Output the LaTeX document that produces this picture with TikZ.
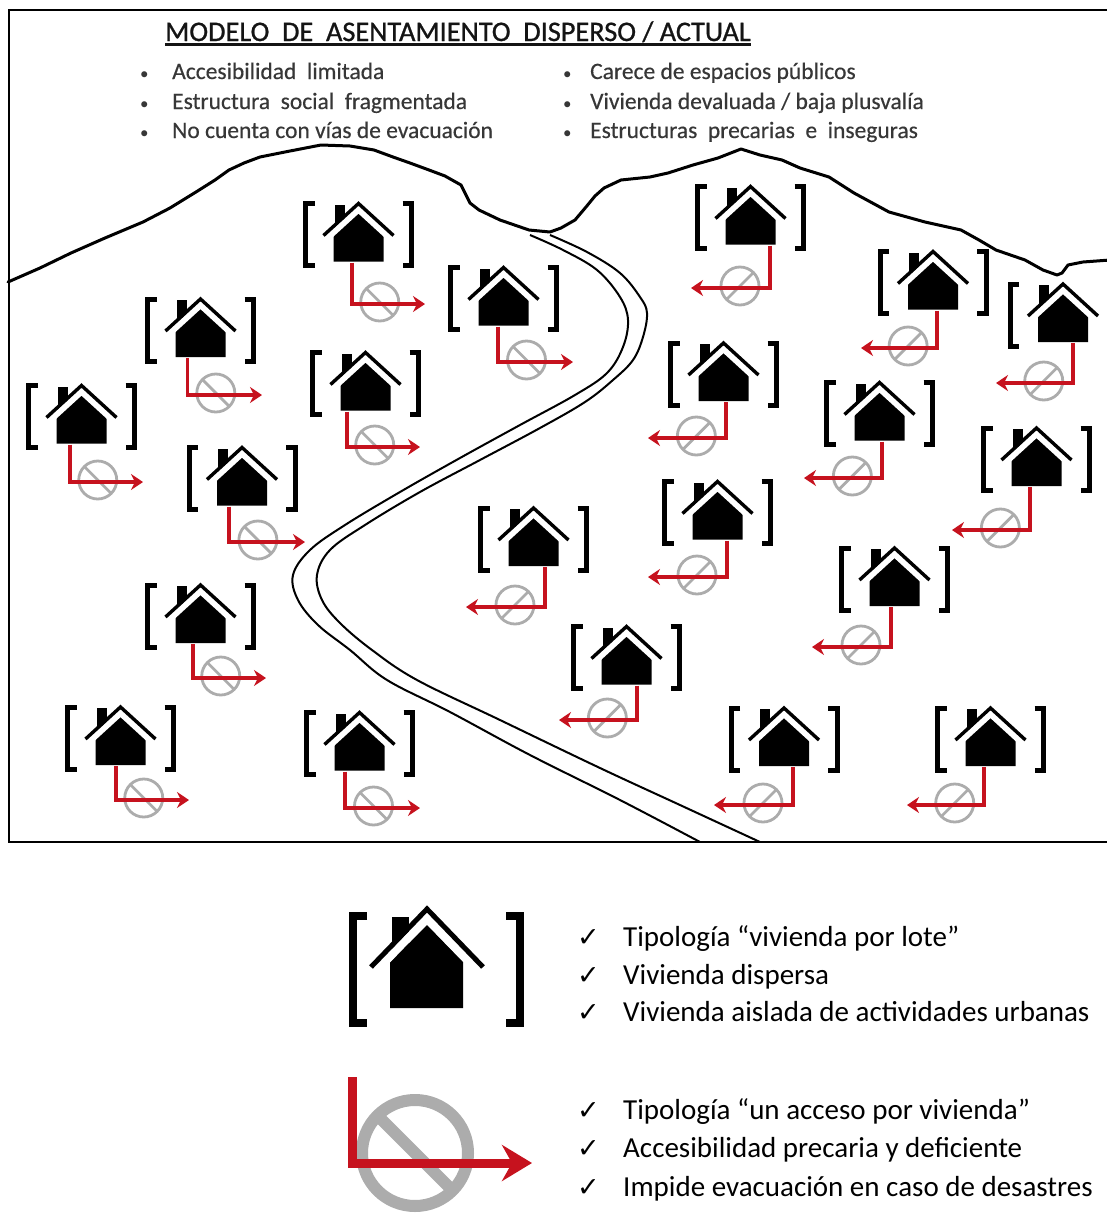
\documentclass[tikz,border=0pt]{standalone}
\usepackage{fontspec}
\setmainfont{Carlito}
\newfontfamily\checkfont{DejaVu Sans}
\newfontfamily\headfont{Carlito}[FakeBold=0.9]
\newfontfamily\notefont{Carlito}[FakeBold=0.4]
\usetikzlibrary{arrows.meta,calc}

\definecolor{accessred}{RGB}{198,18,30}
\definecolor{bangray}{RGB}{172,172,172}
\definecolor{bulletink}{RGB}{55,55,55}
\definecolor{titleink}{RGB}{20,20,20}

\newcommand\dsp{\hspace{0.45em}}

\tikzset{
  bracketline/.style={line width=5pt, line cap=butt, line join=miter},
  roofline/.style={line width=3.4pt, line cap=butt, line join=miter},
  roofgap/.style={white, line width=6pt, line cap=butt, line join=miter},
  accessline/.style={accessred, line width=3.3pt, line join=miter,
    -{Stealth[length=12pt,width=16pt,inset=4pt]}},
  banring/.style={bangray, line width=2.8pt},
  ridge/.style={line width=3pt, line join=round, line cap=round},
  roadedge/.style={line width=2pt},
  bulletdot/.style={anchor=base west, inner sep=0pt, text=bulletink,
    font=\fontsize{17}{20}\selectfont},
  bulletitem/.style={anchor=base west, inner sep=0pt, text=bulletink,
    font=\notefont\fontsize{23.5}{28}\selectfont},
  legenditem/.style={anchor=base west, inner sep=0pt,
    font=\fontsize{29}{35}\selectfont},
  checkmark/.style={anchor=base west, inner sep=0pt,
    font=\checkfont\fontsize{27}{30}\selectfont},
  % one housing lot: brackets round a house with chimney
  lot/.pic={
    \draw[bracketline] (-44,-31) -- (-53,-31) -- (-53,31) -- (-44,31);
    \draw[bracketline] (44,-31) -- (53,-31) -- (53,31) -- (44,31);
    \fill (-24,-30) rectangle (-14,-6);
    \fill (-25,27) -- (25,27) -- (25,-2) -- (0,-24) -- (-25,-2) -- cycle;
    \draw[roofgap] (-35,7.1) -- (0,-24.9) -- (35,7.1);
    \draw[roofline] (-35,1) -- (0,-31) -- (35,1);
  }
}

% lot with its single access running to the right
% #1,#2 lot centre; #3 access x; #4 access y; #5 arrow tip x
\newcommand\lotR[5]{%
  \pic at (#1,#2) {lot};
  \coordinate (bc) at ($(#3,#4)!0.38!(#5,#4)+(0,-2)$);
  \draw[banring] (bc) circle[radius=19pt];
  \draw[banring] ($(bc)+(-13.4,-13.4)$) -- ($(bc)+(13.4,13.4)$);
  \draw[accessline] (#3,#2+28) |- (#5,#4);
}
% lot with its single access running to the left
\newcommand\lotL[5]{%
  \pic at (#1,#2) {lot};
  \coordinate (bc) at ($(#3,#4)!0.38!(#5,#4)+(0,-2)$);
  \draw[banring] (bc) circle[radius=19pt];
  \draw[banring] ($(bc)+(-13.4,13.4)$) -- ($(bc)+(13.4,-13.4)$);
  \draw[accessline] (#3,#2+28) |- (#5,#4);
}

\begin{document}
\begin{tikzpicture}[x=1pt,y=-1pt]
\useasboundingbox (0,0) rectangle (1107,1219);
\clip (0,0) rectangle (1107,1219);
\fill[white] (0,0) rectangle (1107,1219);

% frame of the settlement scene
\draw[line width=2pt] (9,10) rectangle (1130,842);

% title and features
\node[anchor=base west, inner sep=0pt, text=titleink,
  font=\headfont\fontsize{28.3}{34}\selectfont] (title) at (165,41)
  {MODELO\dsp DE\dsp ASENTAMIENTO\dsp DISPERSO / ACTUAL};
\draw[titleink, line width=2.2pt] ([yshift=-3.5pt]title.base west) -- ([yshift=-3.5pt]title.base east);

\foreach \yy/\txt in {79/{Accesibilidad\dsp limitada},
                      109/{Estructura\dsp social\dsp fragmentada},
                      138/{No cuenta con vías de evacuación}} {
  \node[bulletdot] at (140,\yy) {\textbullet};
  \node[bulletitem] at (172,\yy) {\txt};
}
\foreach \yy/\txt in {79/{Carece de espacios públicos},
                      109/{Vivienda devaluada / baja plusvalía},
                      138/{Estructuras\dsp precarias\dsp e\dsp inseguras}} {
  \node[bulletdot] at (563,\yy) {\textbullet};
  \node[bulletitem] at (590,\yy) {\txt};
}

% mountain ridge
\draw[ridge] (8,282) -- (40,268) -- (71,253) -- (105,238) -- (143,222) -- (170,208)
  -- (196,192) -- (215,180) -- (229,170) -- (244,163) -- (260,157) -- (290,151)
  -- (321,145) -- (350,146) -- (374,150) -- (393,157) -- (410,163) -- (429,170)
  -- (445,176) -- (461,185) -- (466,195) -- (470,203) -- (479,210) -- (500,220)
  -- (529,230) -- (550,232) -- (561,228) -- (575,220) -- (586,207) -- (595,196)
  -- (604,188) -- (621,180) -- (650,177) -- (668,173) -- (693,165) -- (718,158)
  -- (741,149) -- (760,155) -- (782,160) -- (800,168) -- (829,177) -- (854,193)
  -- (889,212) -- (925,222) -- (961,230) -- (979,240) -- (996,250) -- (1025,260)
  -- (1043,270) -- (1057,275) -- (1062,273) -- (1068,265) -- (1083,262) -- (1110,260);

% winding road
\draw[roadedge] plot[smooth, tension=0.6] coordinates {
  (530,235) (563,250) (597,270) (620,297) (628,320) (623,347) (607,373)
  (575,395) (520,425) (460,458) (400,492) (345,525) (310,550) (293,575)
  (298,600) (318,625) (350,650) (387,680) (450,712) (530,755) (620,800) (700,842)};
\draw[roadedge] plot[smooth, tension=0.6] coordinates {
  (550,235) (587,252) (620,273) (640,297) (647,313) (643,337) (633,360)
  (613,380) (585,402) (540,428) (480,460) (420,492) (365,525) (330,550)
  (317,575) (322,600) (340,623) (372,650) (417,680) (500,720) (600,768)
  (680,805) (760,842)};

% lots west of the road
\lotR{358.5}{234.5}{352}{304}{425}
\lotR{503.5}{298.5}{498}{362}{573}
\lotR{200.5}{330}{187.5}{395}{262}
\lotR{81.5}{416.5}{70}{482}{143}
\lotR{365.5}{383.5}{347}{447}{420}
\lotR{242}{478.5}{229}{542}{305}
\lotR{200.5}{616}{193}{678}{266}
\lotR{120.5}{738}{116}{800}{189}
\lotR{359.5}{743.5}{345}{808}{420}

% lots east of the road
\lotL{533.5}{539}{545}{607}{466}
\lotL{750.5}{217.5}{770}{288}{691}
\lotL{933}{282.5}{937}{348}{861}
\lotL{1063}{315}{1073}{383}{996}
\lotL{723.5}{374}{726}{438}{648}
\lotL{879.5}{413.5}{882}{478}{804}
\lotL{1036.5}{459}{1030}{530}{952}
\lotL{717.5}{512.5}{727}{577}{648}
\lotL{894.5}{579}{891}{647}{812}
\lotL{626.5}{657.5}{637}{720}{559}
\lotL{784}{739}{793}{805}{714}
\lotL{990.5}{739}{984}{805}{907}

% legend: lot symbol
\draw[line width=8pt, line cap=butt, line join=miter] (367,916) -- (353,916) -- (353,1023) -- (367,1023);
\draw[line width=8pt, line cap=butt, line join=miter] (506,916) -- (520,916) -- (520,1023) -- (506,1023);
\fill (392,917) rectangle (409,958);
\fill (390,1008) -- (463,1008) -- (463,962) -- (427,925) -- (390,962) -- cycle;
\draw[white, line width=8pt, line join=miter] (371,976.4) -- (427,918.4) -- (483,976.4);
\draw[line width=5pt, line join=miter] (371,967) -- (427,909) -- (483,967);

\node[checkmark] (c1) at (577,946) {✓};
\node[legenditem] (t1) at (623,946) {Tipología “vivienda por lote”};
\node[checkmark] (c2) at (577,984) {✓};
\node[legenditem] (t2) at (623,984) {Vivienda dispersa};
\node[checkmark] (c3) at (577,1021) {✓};
\node[legenditem] (t3) at (623,1021) {Vivienda aislada de actividades urbanas};

% legend: single access symbol
\draw[bangray, line width=12pt] (415,1153) circle[radius=53pt];
\draw[bangray, line width=12pt] (378,1116) -- (452,1190);
\draw[accessred, line width=9pt, line join=miter,
  -{Stealth[length=30pt,width=36pt,inset=10pt]}] (352,1077) |- (532,1163);

\node[checkmark] (c4) at (577,1119) {✓};
\node[legenditem] (t4) at (623,1119) {Tipología “un acceso por vivienda”};
\node[checkmark] (c5) at (577,1157) {✓};
\node[legenditem] (t5) at (623,1157) {Accesibilidad precaria y deficiente};
\node[checkmark] (c6) at (577,1196) {✓};
\node[legenditem] (t6) at (623,1196) {Impide evacuación en caso de desastres};
\node[checkmark] (c7) at (577,1236) {✓};
\end{tikzpicture}
\end{document}
